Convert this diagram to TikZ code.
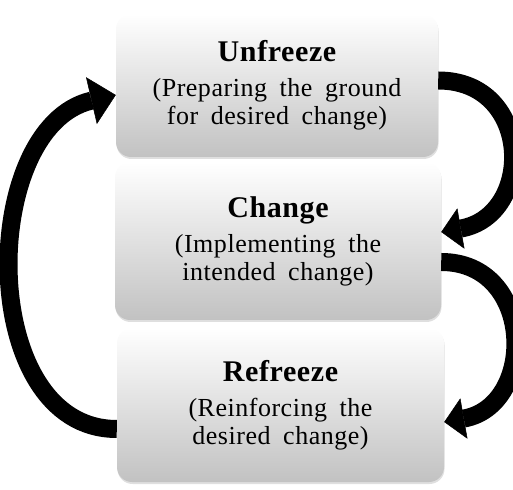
\documentclass[tikz,border=0pt]{standalone}
\usepackage{fontspec}
\setmainfont{Liberation Serif}
\newfontfamily\stagefont[LetterSpace=2,WordSpace=1.8]{Liberation Serif}
\usetikzlibrary{arrows.meta,shadows}

\newcommand{\stagehead}[1]{{\fontsize{30}{28}\selectfont\bfseries #1}}

\tikzset{
    stage/.style={
        rectangle,
        rounded corners=15pt,
        top color=white,
        bottom color=black!24,
        drop shadow={shadow xshift=0.5pt,shadow yshift=-2pt,opacity=0.25},
        inner sep=0pt,
        align=center,
        font=\stagefont\fontsize{26}{28}\selectfont
    },
    cycle arrow/.style={
        line width=18pt,
        -{Triangle[width=41pt,length=20pt,line width=0.5pt]}
    }
}

\begin{document}
\begin{tikzpicture}[x=1pt,y=1pt]
    \useasboundingbox (0,0) rectangle (513,489);

    \node[stage,
        minimum width=322pt,
        minimum height=143pt
    ] (unfreeze) at (277,403.5){\stagehead{Unfreeze}\\[7pt]
        (Preparing the ground\\ for desired change)};
    \node[stage,
        minimum width=326pt,
        minimum height=158pt
    ] (change) at (278,248){\stagehead{Change}\\[7pt]
        (Implementing the\\ intended change)};
    \node[stage,
        minimum width=327pt,
        minimum height=154pt
    ] (refreeze) at (280.5,84){\stagehead{Refreeze}\\[7pt]
        (Reinforcing the\\ desired change)};

    % the cycle
    \draw[cycle arrow] ([yshift=5pt]unfreeze.east)
        to[out=0,in=10,looseness=1.6] ([yshift=9pt]change.east);
    \draw[cycle arrow] ([yshift=-21pt]change.east)
        to[out=0,in=10,looseness=1.5] ([yshift=-17pt]refreeze.east);
    \draw[cycle arrow,
        line width=18pt,
        -{Triangle[width=48pt,length=25pt,line width=0.5pt]}
    ] ([yshift=-24pt]refreeze.west)
        to[out=180,in=193,looseness=1.08] ([yshift=-9.5pt]unfreeze.west);
\end{tikzpicture}
\end{document}
